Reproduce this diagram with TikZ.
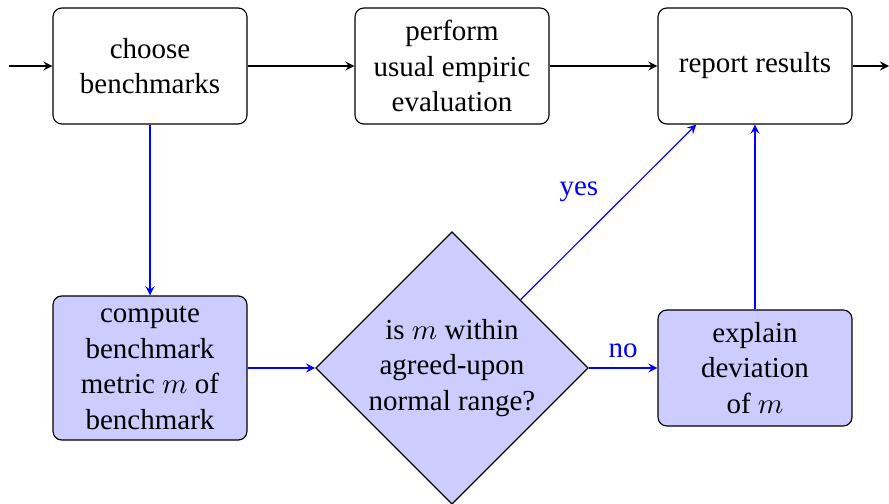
\documentclass[tikz,border=0pt]{standalone}
\usepackage{fontspec}
\setmainfont{Liberation Serif}
\usetikzlibrary{shapes.geometric,arrows}
\begin{document}
\begin{tikzpicture}[x=0.345pt,y=-0.345pt,
  font=\fontsize{10pt}{12.2pt}\selectfont,
  plainbox/.style={draw, rounded corners=3pt, align=center, minimum width=66.9pt, minimum height=40pt, inner sep=2pt},
  filledbox/.style={plainbox, fill=blue!20},
  decision/.style={draw, diamond, fill=blue!20, aspect=1, inner sep=0pt, minimum width=94pt, minimum height=94pt, align=center},
  blk/.style={-stealth},
  blu/.style={-stealth, blue},
  lbl/.style={text=blue}]
\useasboundingbox (0,0) rectangle (889,504);
\node[plainbox] (choose) at (150,66) {choose\\benchmarks};
\node[plainbox] (perform) at (452,66) {perform\\usual empiric\\evaluation};
\node[plainbox] (report) at (755,66) {report results};
\node[filledbox, minimum height=49.7pt] (compute) at (150,368) {compute\\benchmark\\metric $m$ of\\benchmark};
\node[decision] (dec) at (452,368) {is $m$ within\\agreed-upon\\normal range?};
\node[filledbox] (explain) at (755,368) {explain\\deviation\\of $m$};
\coordinate (in) at (9,66);
\coordinate (out) at (889,66);
\draw[blk] (in) -- (choose);
\draw[blk] (choose) -- (perform);
\draw[blk] (perform) -- (report);
\draw[blk] (report) -- (out);
\draw[blu] (choose) -- (compute);
\draw[blu] (compute) -- (dec);
\draw[blu] (dec) -- node[lbl, above] {no} (explain);
\draw[blu] (dec) -- node[lbl, above left, midway] {yes} (report);
\draw[blu] (explain) -- (report);
\end{tikzpicture}
\end{document}
